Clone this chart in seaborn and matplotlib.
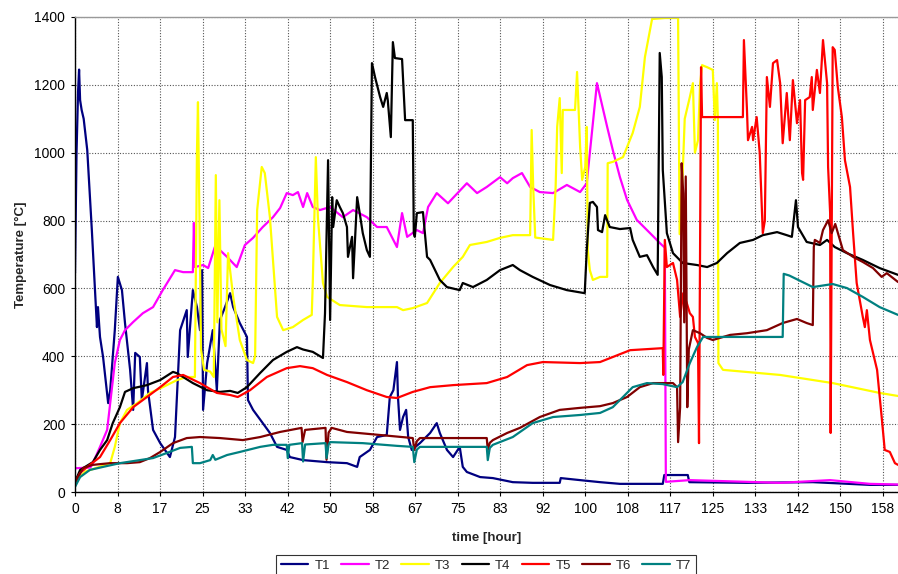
import numpy as np
import pandas as pd
import matplotlib
matplotlib.use("Agg")
import matplotlib.pyplot as plt
import seaborn as sns

# ---------------- data (hours, °C) ----------------
t1_h = [0, 0.3, 0.6, 0.8, 1.0, 1.3, 1.7, 2.4, 3.3, 4.3, 4.5, 4.9, 5.5, 6.5, 6.9, 7.8, 8.4, 9.2, 9.8, 10.8,
        11.4, 11.8, 12.7, 13.1, 14.1, 14.3, 15.3, 16.7, 18.6, 19.6, 20.6, 21.9, 22.1, 23.1, 23.9, 24.5, 24.9,
        25.1, 25.9, 27.0, 27.8, 28.4, 29.4, 30.4, 31.0, 32.3, 33.7, 33.9, 34.9, 36.8, 38.2, 39.6, 41.5, 42.1,
        44.7, 49.4, 53.3, 55.3, 55.8, 57.8, 59.2, 61.1, 61.7, 62.4, 63.1, 63.3, 63.7, 64.3, 64.9, 65.3, 66.0,
        67.6, 69.6, 70.9, 71.5, 72.9, 74.1, 75.4, 76.0, 76.8, 79.4, 81.9, 85.8, 89.7, 95.0, 95.2, 99.0, 102.9,
        106.8, 115.2, 115.5, 120.1, 120.4, 131.7, 144.6, 155.8, 161.3]
t1_v = [645, 1000, 1180, 1245, 1155, 1126, 1100, 1008, 772, 486, 545, 457, 398, 262, 300, 477, 634, 595, 498, 360,
        242, 410, 398, 271, 380, 300, 183, 144, 103, 162, 477, 536, 398, 595, 545, 477, 654,
        242, 380, 477, 300, 507, 545, 586, 545, 498, 457, 271, 242, 203, 174, 133, 124, 103,
        94, 88, 85, 74, 103, 124, 162, 168, 280, 300, 383, 280, 183, 221, 242, 162, 124,
        144, 174, 203, 174, 124, 103, 133, 74, 59, 44, 41, 29, 27, 27, 41, 35, 29,
        24, 24, 50, 50, 29, 27, 29, 21, 21]

t2_h = [0, 3.0, 3.5, 4.9, 6.3, 6.9, 7.8, 8.8, 9.8, 11.4, 13.3, 15.3, 17.2, 19.6, 21.2, 23.1, 23.3, 23.5, 25.1,
        26.1, 27.4, 28.4, 29.8, 31.7, 33.3, 34.9, 36.8, 38.8, 40.2, 41.5, 42.7, 43.7, 44.7, 45.5, 46.6, 48.0,
        50.0, 52.5, 54.5, 57.2, 59.2, 61.1, 63.1, 64.1, 65.1, 67.0, 68.2, 69.2, 70.9, 73.1, 76.8, 78.8, 80.7,
        83.3, 84.7, 85.8, 87.6, 89.2, 91.1, 93.7, 96.4, 99.0, 100.3, 100.9, 102.3, 104.3, 105.4, 106.8, 108.2,
        110.1, 112.7, 114.6, 115.6, 115.8, 120.5, 138.2, 148.0, 155.8, 161.3]
t2_v = [70, 72, 85, 133, 183, 262, 380, 448, 477, 501, 527, 545, 595, 654, 648, 648, 793, 663, 669,
        660, 722, 713, 693, 663, 728, 749, 781, 810, 837, 881, 875, 884, 840, 881, 840, 831,
        840, 810, 831, 810, 781, 781, 722, 822, 752, 772, 763, 840, 881, 851, 910, 881, 899,
        928, 910, 925, 940, 899, 884, 881, 905, 884, 910, 999, 1205, 1076, 1008, 928, 861,
        802, 763, 734, 720, 30, 35, 27, 35, 24, 22]

t3_h = [0, 2, 5, 6.9, 7.8, 8.8, 10.2, 12.2, 14.7, 17.2, 20.0, 21.9, 23.5, 23.9, 24.1, 24.4, 24.7, 25.3, 26.5,
        27.2, 27.6, 27.9, 28.3, 28.7, 29.5, 30.0, 30.5, 31.0, 32.3, 33.7, 34.9, 35.3, 35.7, 36.6, 37.2, 38.2,
        39.6, 40.8, 42.7, 44.7, 46.4, 46.6, 47.2, 47.6, 48.6, 49.4, 51.9, 57.2, 63.1, 64.3, 66.2, 69.0, 71.5,
        74.1, 76.0, 77.4, 80.7, 83.3, 85.8, 89.2, 89.5, 89.8, 90.2, 93.7, 94.2, 94.5, 95.0, 95.4, 95.6, 98.0,
        98.4, 99.0, 99.4, 100.0, 100.3, 100.5, 100.9, 101.5, 102.9, 104.3, 104.4, 105.4, 107.4, 109.3, 110.7,
        111.7, 113.1, 115.6, 118.2, 118.5, 119.0, 119.5, 120.5, 121.1, 121.5, 122.1, 122.5, 122.9, 123.9,
        125.0, 125.4, 125.8, 126.0, 126.1, 127.0, 138.2, 148.5, 157.7, 161.3]
t3_v = [30, 60, 75, 85, 133, 203, 242, 262, 292, 309, 330, 339, 339, 1000, 1149, 800, 420, 360, 355,
        339, 934, 500, 860, 480, 430, 704, 640, 575, 448, 389, 380, 400, 831, 958, 940, 810,
        516, 477, 486, 507, 522, 616, 987, 810, 616, 575, 551, 545, 545, 536, 542, 557, 616,
        663, 693, 728, 737, 749, 757, 757, 1067, 900, 750, 743, 900, 1076, 1161, 940, 1126, 1126,
        1238, 1017, 920, 958, 1076, 713, 654, 625, 634, 634, 969, 973, 987, 1058, 1135,
        1282, 1394, 1397, 1397, 760, 900, 1100, 1164, 1205, 1000, 1037, 1200, 1258, 1252,
        1244, 1096, 1205, 1096, 380, 360, 345, 321, 292, 283]

t4_h = [0, 1, 3.5, 4.9, 6.3, 7.4, 8.8, 9.8, 11.4, 14.1, 16.7, 19.2, 20.0, 23.1, 25.9, 28.4, 30.4, 31.9, 33.7,
        36.3, 38.8, 41.5, 43.5, 44.7, 46.6, 48.6, 49.0, 49.6, 50.0, 50.4, 50.6, 51.3, 51.9, 52.5, 53.3, 53.5,
        54.3, 54.5, 55.3, 55.8, 56.4, 57.2, 57.8, 58.2, 58.8, 59.8, 60.4, 61.1, 61.3, 61.9, 62.3, 62.7, 64.1,
        64.7, 66.2, 66.4, 66.6, 67.0, 68.2, 69.0, 69.6, 71.5, 72.9, 75.4, 76.0, 78.0, 80.7, 83.3, 85.8, 87.2,
        89.7, 93.1, 96.4, 99.9, 100.3, 100.9, 101.5, 102.3, 102.5, 103.3, 103.9, 104.8, 106.8, 108.8, 109.3,
        110.7, 112.1, 113.3, 114.2, 114.6, 115.0, 115.2, 116.0, 117.2, 119.1, 121.9, 123.9, 125.8, 127.8,
        130.3, 132.9, 134.8, 137.6, 139.5, 140.5, 141.3, 141.7, 143.4, 146.0, 147.4, 148.9, 151.3, 154.4,
        157.7, 161.3]
t4_v = [29, 65, 88, 124, 153, 203, 250, 295, 306, 315, 330, 354, 350, 321, 300, 295, 298, 292, 309,
        351, 389, 413, 427, 420, 413, 395, 527, 978, 507, 869, 781, 860, 840, 822, 781, 693,
        752, 630, 869, 822, 763, 713, 693, 1264, 1223, 1164, 1135, 1176, 1155, 1046, 1326, 1279, 1276,
        1096, 1096, 763, 752, 822, 825, 693, 684, 625, 604, 595, 616, 604, 625, 654, 669, 654,
        634, 610, 595, 586, 713, 852, 855, 840, 772, 766, 816, 781, 775, 778, 743,
        693, 698, 663, 640, 1294, 1223, 949, 763, 704, 675, 669, 663, 675, 704,
        734, 743, 757, 766, 757, 752, 860, 781, 737, 728, 743, 722, 704, 684,
        660, 640]

t5_h = [0, 1, 2.4, 4.9, 6.9, 8.8, 11.4, 14.1, 16.7, 19.2, 21.2, 24.5, 27.8, 30.4, 31.9, 34.3, 37.6, 41.5, 44.1,
        46.6, 49.4, 53.3, 57.2, 61.1, 63.1, 66.2, 69.6, 74.1, 80.7, 84.7, 88.6, 91.7, 99.0, 102.9, 108.8,
        115.2, 115.3, 115.6, 116.0, 116.6, 117.2, 118.0, 118.6, 119.2, 119.9, 120.5, 121.1, 121.5, 122.1,
        122.3, 122.7, 122.9, 130.9, 131.1, 131.7, 131.9, 132.7, 132.9, 133.6, 134.2, 134.8, 135.2, 135.6,
        136.2, 136.8, 137.6, 138.2, 138.7, 139.5, 140.1, 140.7, 141.5, 142.1, 142.5, 142.7, 143.1, 144.0,
        144.4, 144.6, 145.4, 146.0, 146.6, 147.4, 147.6, 148.0, 148.1, 148.5, 148.9, 149.5, 150.3, 150.9,
        151.9, 152.5, 153.2, 154.4, 154.8, 155.2, 155.8, 157.2, 158.1, 158.7, 159.7, 160.7, 161.3]
t5_v = [27, 56, 74, 103, 153, 203, 250, 280, 309, 339, 345, 321, 292, 286, 280, 300, 339, 365, 371,
        365, 345, 324, 300, 280, 277, 295, 309, 315, 321, 339, 374, 383, 380, 383, 418,
        424, 345, 743, 663, 669, 675, 625, 516, 586, 557, 527, 516, 457, 439,
        144, 1252, 1105, 1105, 1332, 1126, 1037, 1076, 1037, 1105, 999, 763, 800, 1223,
        1135, 1264, 1273, 1205, 1028, 1176, 1037, 1214, 1087, 1155, 940, 920, 1155, 1164,
        1223, 1126, 1244, 1176, 1332, 1205, 958, 822, 174, 1311, 1303, 1194, 1105, 978,
        899, 763, 616, 516, 486, 536, 448, 360, 221, 124, 118, 85, 80]

t6_h = [0, 1.6, 3.5, 6.9, 10.2, 12.7, 14.7, 16.7, 19.2, 21.9, 24.5, 28.4, 32.9, 36.3, 40.2, 44.4, 44.6, 45.1,
        49.1, 49.3, 49.7, 50.3, 53.3, 59.8, 66.2, 66.5, 67.0, 67.6, 80.7, 80.9, 81.3, 81.9, 84.7, 87.2, 91.1,
        95.0, 99.0, 102.9, 105.4, 108.2, 110.7, 113.3, 117.2, 118.0, 118.2, 118.6, 118.9, 119.2, 119.4,
        119.7, 120.0, 120.3, 121.1, 122.5, 123.9, 125.0, 128.4, 131.7, 135.6, 138.7, 141.5, 143.4, 144.6,
        144.8, 145.0, 146.0, 146.6, 147.6, 148.3, 149.0, 150.5, 152.5, 154.4, 156.4, 158.1, 159.1, 161.3]
t6_v = [27, 71, 80, 85, 85, 88, 100, 118, 144, 159, 162, 159, 153, 162, 177, 189, 147, 183,
        189, 95, 175, 189, 177, 168, 159, 124, 150, 159, 159, 124, 145, 153, 174, 189, 221,
        242, 248, 253, 262, 280, 309, 321, 321, 309, 147, 250, 969, 880, 500,
        930, 250, 420, 477, 468, 454, 448, 463, 468, 477, 498, 510, 498, 492,
        722, 743, 734, 772, 801, 763, 790, 713, 693, 678, 660, 634, 645, 619]

t7_h = [0, 1, 2.9, 5.5, 8.8, 12.7, 15.3, 18.0, 20.6, 22.9, 23.1, 24.5, 26.5, 27.0, 27.5, 29.8, 32.3, 36.3, 38.8,
        41.5, 41.7, 42.0, 44.5, 44.7, 45.1, 49.1, 49.3, 49.7, 50.0, 56.4, 63.1, 66.2, 66.5, 67.0, 67.6, 80.7,
        80.9, 81.3, 81.9, 85.8, 89.7, 93.7, 99.0, 102.9, 105.4, 107.4, 109.3, 112.1, 115.2, 118.0, 119.1,
        120.5, 121.9, 123.1, 138.7, 138.9, 140.0, 144.6, 148.5, 151.3, 154.4, 157.7, 161.3]
t7_v = [15, 44, 65, 74, 85, 94, 100, 115, 130, 133, 85, 85, 94, 109, 95, 109, 118, 133, 139,
        139, 100, 139, 144, 90, 140, 144, 100, 140, 147, 144, 136, 133, 88, 125, 133, 133,
        94, 130, 139, 162, 203, 221, 227, 233, 250, 280, 309, 321, 318, 309, 324,
        380, 427, 457, 457, 643, 638, 604, 613, 601, 575, 545, 522]

series_names = ["T1", "T2", "T3", "T4", "T5", "T6", "T7"]
series_hours = [t1_h, t2_h, t3_h, t4_h, t5_h, t6_h, t7_h]
series_temps = [t1_v, t2_v, t3_v, t4_v, t5_v, t6_v, t7_v]
colors = ["#000080", "#FF00FF", "#FFFF00", "#000000", "#FF0000", "#800000", "#008080"]

x_ticks = [0, 25/3, 50/3, 25, 100/3, 125/3, 50, 175/3, 200/3, 75, 250/3, 275/3, 100,
           325/3, 350/3, 125, 400/3, 425/3, 150, 475/3]
x_tick_labels = ["0", "8", "17", "25", "33", "42", "50", "58", "67", "75", "83", "92", "100",
                 "108", "117", "125", "133", "142", "150", "158"]
y_ticks = [0, 200, 400, 600, 800, 1000, 1200, 1400]

frames = []
for name, hh, vv in zip(series_names, series_hours, series_temps):
    frames.append(pd.DataFrame({"series": name, "hour": hh, "temp": vv}))
df = pd.concat(frames, ignore_index=True)

# ---------------- style ----------------
sns.set_theme(style="white")
plt.rcParams["font.family"] = ["Liberation Sans", "DejaVu Sans"]

fig = plt.figure(figsize=(8.98, 5.74), dpi=100)
ax = fig.add_axes([75/898, 1 - 492/574, 1 - 75/898, (492 - 17)/574])

sns.lineplot(data=df, x="hour", y="temp", hue="series", palette=dict(zip(series_names, colors)),
             sort=False, estimator=None, linewidth=1.6, ax=ax)

ax.set_xlim(0, 161.3)
ax.set_ylim(0, 1400)
ax.set_xticks(x_ticks)
ax.set_xticklabels(x_tick_labels)
ax.set_yticks(y_ticks)
ax.tick_params(axis="both", labelsize=10, colors="#000000", length=3, width=0.8,
               direction="out", bottom=True, left=True, pad=4)
ax.grid(True, color="#555555", linestyle=(0, (1, 1.5)), linewidth=0.8)
ax.set_axisbelow(True)
for s in ["left", "bottom"]:
    ax.spines[s].set_color("#000000")
    ax.spines[s].set_linewidth(1.0)
ax.spines["top"].set_color("#999999")
ax.spines["top"].set_linewidth(1.0)
ax.spines["right"].set_visible(False)

ax.set_xlabel("time [hour]", fontsize=9.5, fontweight="bold", labelpad=12)
ax.set_ylabel("Temperature [°C]", fontsize=9.5, fontweight="bold", labelpad=5)

handles, labels = ax.get_legend_handles_labels()
ax.get_legend().remove()
leg = fig.legend(handles, labels, loc="upper center", bbox_to_anchor=(486/898, 1 - 555/574),
                 ncol=7, fontsize=9.5, frameon=True, fancybox=False, edgecolor="#000000",
                 handlelength=2.1, handletextpad=0.45, columnspacing=0.85, borderpad=0.35,
                 borderaxespad=0)
leg.get_frame().set_linewidth(0.8)
for ln in leg.get_lines():
    ln.set_linewidth(1.6)

fig.savefig("out.png", dpi=100)
